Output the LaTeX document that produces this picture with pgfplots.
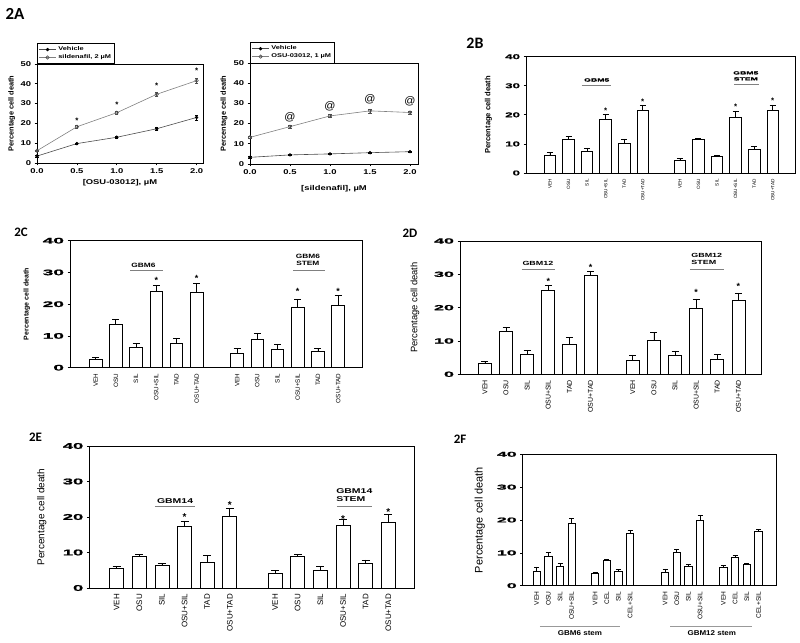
\documentclass[border=0pt]{standalone}
\usepackage{pgfplots}
\pgfplotsset{compat=1.18}
\usepackage{fontspec}
\setmainfont{Liberation Sans}
\newfontfamily\stS{Liberation Sans}[FakeStretch=1.15]
\newfontfamily\stA{Liberation Sans}[FakeStretch=1.35]
\newfontfamily\stM{Liberation Sans}[FakeStretch=1.5]
\newfontfamily\stB{Liberation Sans}[FakeStretch=1.9, FakeBold=1.2]
\newfontfamily\stE{Liberation Sans}[FakeStretch=2.2, FakeBold=1.5]
\newfontfamily\stC{Liberation Sans}[FakeStretch=2.4, FakeBold=1.5]
\newfontfamily\stF{Liberation Sans}[FakeStretch=2.55, FakeBold=1.5]
\newfontfamily\calib{Carlito}

\tikzset{grp/.style={font=#1, align=center, inner sep=0pt}}
\pgfplotsset{
  base/.style={scale only axis, anchor=south west, clip=false,
    axis line style={line width=0.8pt},
    /pgf/number format/assume math mode=true,
    tick style={black, line width=0.7pt},
    tick align=outside, xtick pos=bottom, ytick pos=left,
    major tick length=2.5pt},
  barax/.style={base, ymin=0, ymax=40, ytick={0,10,20,30,40},
    xtick={0,1,2,3,4,5,7,8,9,10,11,12},
    xticklabels={VEH,OSU,SIL,OSU+SIL,TAD,OSU+TAD,VEH,OSU,SIL,OSU+SIL,TAD,OSU+TAD},
    xtick style={draw=none},
    xticklabel style={rotate=90, anchor=east},
    ylabel={Percentage cell death}},
  bars/.style={ybar, bar width=0.62, fill=white, draw=black, line width=0.8pt,
    error bars/.cd, y dir=plus, y explicit,
    error bar style={line width=0.8pt, black},
    error mark options={rotate=90, black, line width=0.8pt, mark size=#1}},
  stars/.style={draw=none, mark=none, nodes near coords={*},
    every node near coord/.append style={anchor=center, inner sep=0pt, black, font=#1}},
  lineerr/.style={error bars/.cd, y dir=both, y explicit,
    error bar style={#1, line width=0.5pt},
    error mark options={rotate=90, #1, line width=0.5pt, mark size=1.6pt}},
}

\begin{document}
\begin{tikzpicture}
\path[use as bounding box] (0,0) rectangle (800bp,643bp);

% panel labels
\node[font=\calib\bfseries\fontsize{17}{18}\selectfont] at (15bp,629bp) {2A};
\node[font=\calib\bfseries\fontsize{16}{17}\selectfont] at (475bp,600bp) {2B};
\node[font=\calib\bfseries\fontsize{13}{14}\selectfont] at (21bp,410.5bp) {2C};
\node[font=\calib\bfseries\fontsize{13}{14}\selectfont] at (410bp,410bp) {2D};
\node[font=\calib\bfseries\fontsize{13}{14}\selectfont] at (35.5bp,205.5bp) {2E};
\node[font=\calib\bfseries\fontsize{13}{14}\selectfont] at (460bp,204bp) {2F};

% ---------------- 2A left
\begin{axis}[base, at={(37bp,480bp)}, width=166bp, height=99bp,
  xmin=0, xmax=2.08, ymin=0, ymax=50,
  xtick={0,0.5,1,1.5,2}, ytick={0,10,20,30,40,50},
  ticklabel style={font=\stA\bfseries\fontsize{7}{8}\selectfont},
  xticklabel style={/pgf/number format/.cd, fixed, fixed zerofill, precision=1},
  every axis y label/.style={at={(axis description cs:-0.152,0.5)}, rotate=90, anchor=center, font=\bfseries\fontsize{7.4}{8}\selectfont},
  every axis x label/.style={at={(axis description cs:0.5,-0.2)}, anchor=center, font=\stA\bfseries\fontsize{7}{8}\selectfont},
  xlabel={{[}OSU-03012{]}, µM}, ylabel={Percentage cell death},
  legend style={at={(0,1)}, anchor=south west, font=\stA\bfseries\fontsize{5.5}{6}\selectfont,
    draw=black, line width=0.5pt, inner sep=1.5pt, row sep=-1.5pt},
  legend cell align=left]
\addplot[black!70, line width=0.6pt, mark=*, mark size=1.4pt, mark options={black, fill=black}, lineerr=black]
  table[x=x, y=y, y error=e] {
x y e
0 3.5 0.5
0.5 9.8 0.4
1.0 13.0 0.4
1.5 17.3 0.6
2.0 23.0 1.2
};
\addlegendentry{Vehicle}
\addplot[black!50, line width=0.6pt, mark=o, mark size=1.7pt, mark options={black!70, fill=white}, lineerr=black!70]
  table[x=x, y=y, y error=e] {
x y e
0 6.2 0.4
0.5 18.3 0.8
1.0 25.4 0.8
1.5 34.7 1.2
2.0 41.6 1.4
};
\addlegendentry{sildenafil, 2 µM}
\addplot[stars=\bfseries\fontsize{8}{8}\selectfont, forget plot] coordinates {(0.5,21.4) (1.0,29.4) (1.5,38.9) (2.0,46.4)};
\end{axis}

% ---------------- 2A right
\begin{axis}[base, at={(250bp,479bp)}, width=168bp, height=101bp,
  xmin=0, xmax=2.1, ymin=0, ymax=50,
  xtick={0,0.5,1,1.5,2}, ytick={0,10,20,30,40,50},
  ticklabel style={font=\stA\bfseries\fontsize{7}{8}\selectfont},
  xticklabel style={/pgf/number format/.cd, fixed, fixed zerofill, precision=1},
  every axis y label/.style={at={(axis description cs:-0.155,0.5)}, rotate=90, anchor=center, font=\bfseries\fontsize{7.4}{8}\selectfont},
  every axis x label/.style={at={(axis description cs:0.5,-0.24)}, anchor=center, font=\stA\bfseries\fontsize{7}{8}\selectfont},
  xlabel={{[}sildenafil{]}, µM}, ylabel={Percentage cell death},
  legend style={at={(0,1)}, anchor=south west, font=\stA\bfseries\fontsize{5.5}{6}\selectfont,
    draw=black, line width=0.5pt, inner sep=1.5pt, row sep=-1.5pt},
  legend cell align=left]
\addplot[black!70, line width=0.6pt, mark=*, mark size=1.4pt, mark options={black, fill=black}, lineerr=black]
  table[x=x, y=y, y error=e] {
x y e
0 3.3 0.3
0.5 4.5 0.3
1.0 5.0 0.3
1.5 5.6 0.4
2.0 6.1 0.3
};
\addlegendentry{Vehicle}
\addplot[black!50, line width=0.6pt, mark=o, mark size=1.7pt, mark options={black!70, fill=white}, lineerr=black!70]
  table[x=x, y=y, y error=e] {
x y e
0 13.2 0.5
0.5 18.5 0.6
1.0 23.8 0.8
1.5 26.3 1.0
2.0 25.5 0.8
};
\addlegendentry{OSU-03012, 1 µM}
\addplot[stars=\fontsize{11}{11}\selectfont, nodes near coords={@}, forget plot] coordinates {(0.5,23.2) (1.0,28.5) (1.5,32.1) (2.0,31.0)};
\end{axis}

% ---------------- 2B
\begin{axis}[barax, at={(526bp,470bp)}, width=269bp, height=116.3bp,
  xmin=-1.29, xmax=13.2,
  yticklabel style={font=\stB\bfseries\fontsize{7}{8}\selectfont},
  xticklabel style={font=\fontsize{4.7}{5}\selectfont},
  every axis y label/.style={at={(axis description cs:-0.140,0.5)}, rotate=90, anchor=center, font=\bfseries\fontsize{7.6}{8}\selectfont}]
\addplot[bars=3pt] table[x=x, y=y, y error=e] {
x y e
0 6.2 1.0
1 11.4 1.2
2 7.4 1.2
3 18.6 1.6
4 10.1 1.6
5 21.7 1.6
7 4.5 0.4
8 11.4 0.6
9 5.8 0.4
10 19.0 2.1
11 8.1 1.0
12 21.4 2.0
};
\addplot[stars=\bfseries\fontsize{8}{8}\selectfont] coordinates {(3,21.4) (5,24.6) (10,22.7) (12,24.9)};
\node[grp=\stB\bfseries\fontsize{4.6}{5.5}\selectfont] at (axis cs:2.52,32.0) {GBM5};
\draw[black!50, line width=0.6pt] (axis cs:1.71,30.3) -- (axis cs:3.27,30.3);
\node[grp=\stB\bfseries\fontsize{4.6}{6}\selectfont] at (axis cs:10.55,33.4) {GBM5\\STEM};
\draw[black!50, line width=0.6pt] (axis cs:9.93,30.5) -- (axis cs:11.28,30.5);
\end{axis}

% ---------------- 2C
\begin{axis}[barax, at={(70bp,275.3bp)}, width=292bp, height=127bp,
  xmin=-1.27, xmax=13.18,
  yticklabel style={font=\stC\bfseries\fontsize{8}{9}\selectfont},
  xticklabel style={font=\fontsize{6.3}{7}\selectfont},
  every axis y label/.style={at={(axis description cs:-0.148,0.5)}, rotate=90, anchor=center, font=\bfseries\fontsize{7}{8}\selectfont}]
\addplot[bars=3.5pt] table[x=x, y=y, y error=e] {
x y e
0 2.6 0.6
1 13.6 1.6
2 6.4 1.2
3 23.9 2.0
4 7.8 1.5
5 23.6 3.0
7 4.6 1.6
8 9.0 1.9
9 5.7 1.6
10 19.0 2.6
11 5.0 1.0
12 19.7 3.0
};
\addplot[stars=\bfseries\fontsize{9}{9}\selectfont] coordinates {(3,27.6) (5,28.2) (10,24.0) (12,24.0)};
\node[grp=\stA\bfseries\fontsize{6.2}{7}\selectfont] at (axis cs:2.36,32.3) {GBM6};
\draw[black!50, line width=0.6pt] (axis cs:1.7,30.8) -- (axis cs:3.33,30.8);
\node[grp=\stA\bfseries\fontsize{6.2}{7.5}\selectfont] at (axis cs:10.5,33.9) {GBM6\\STEM};
\draw[black!50, line width=0.6pt] (axis cs:9.77,30.6) -- (axis cs:11.35,30.6);
\end{axis}

% ---------------- 2D
\begin{axis}[barax, at={(460bp,268.7bp)}, width=301.7bp, height=133.3bp,
  xmin=-1.18, xmax=13.1,
  yticklabel style={font=\stC\bfseries\fontsize{7.5}{8}\selectfont},
  xticklabel style={font=\fontsize{7}{8}\selectfont},
  every axis y label/.style={at={(axis description cs:-0.149,0.5)}, rotate=90, anchor=center, font=\fontsize{9.4}{10}\selectfont}]
\addplot[bars=3.5pt] table[x=x, y=y, y error=e] {
x y e
0 3.4 0.6
1 13.0 1.0
2 6.0 1.1
3 25.2 1.6
4 9.1 1.9
5 29.6 1.4
7 4.1 1.7
8 10.1 2.4
9 5.8 1.2
10 19.8 2.8
11 4.4 1.6
12 22.2 2.2
};
\addplot[stars=\bfseries\fontsize{9}{9}\selectfont] coordinates {(3,28.0) (5,32.0) (10,24.6) (12,26.5)};
\node[grp=\stM\bfseries\fontsize{6}{7}\selectfont] at (axis cs:2.51,33.4) {GBM12};
\draw[black!50, line width=0.6pt] (axis cs:1.74,31.6) -- (axis cs:3.32,31.6);
\node[grp=\stM\bfseries\fontsize{6}{7.5}\selectfont, align=left] at (axis cs:10.5,34.6) {GBM12\\STEM};
\draw[black!50, line width=0.6pt] (axis cs:9.7,31.6) -- (axis cs:11.3,31.6);
\end{axis}

% ---------------- 2E
\begin{axis}[barax, at={(89.3bp,55bp)}, width=325bp, height=142bp,
  xmin=-1.21, xmax=13.15,
  yticklabel style={font=\stE\bfseries\fontsize{8.4}{9}\selectfont},
  xticklabel style={font=\fontsize{8}{9}\selectfont},
  every axis y label/.style={at={(axis description cs:-0.146,0.5)}, rotate=90, anchor=center, font=\fontsize{10}{11}\selectfont}]
\addplot[bars=4pt] table[x=x, y=y, y error=e] {
x y e
0 5.4 0.7
1 8.8 0.6
2 6.4 0.6
3 17.3 1.6
4 7.1 2.0
5 20.3 2.1
7 4.0 1.0
8 8.8 0.6
9 5.0 1.0
10 17.7 1.5
11 6.8 1.1
12 18.4 2.2
};
\addplot[stars=\bfseries\fontsize{10}{10}\selectfont] coordinates {(3,19.9) (5,23.4) (10,19.5) (12,21.5)};
\node[grp=\stM\bfseries\fontsize{7}{8}\selectfont] at (axis cs:2.58,24.6) {GBM14};
\draw[black!50, line width=0.6pt] (axis cs:1.69,23.1) -- (axis cs:3.46,23.1);
\node[grp=\stM\bfseries\fontsize{7}{8.5}\selectfont, align=left] at (axis cs:10.5,26.1) {GBM14\\STEM};
\draw[black!50, line width=0.6pt] (axis cs:9.73,23.1) -- (axis cs:11.28,23.1);
\end{axis}

% ---------------- 2F
\begin{axis}[base, at={(522.7bp,57.3bp)}, width=253.3bp, height=131.4bp,
  xmin=-1.2, xmax=20.5, ymin=0, ymax=40, ytick={0,10,20,30,40},
  xtick={0,1,2,3,5,6,7,8,11,12,13,14,16,17,18,19},
  xticklabels={VEH,OSU,SIL,OSU+SIL,VEH,CEL,SIL,CEL+SIL,VEH,OSU,SIL,OSU+SIL,VEH,CEL,SIL,CEL+SIL},
  xtick style={draw=none},
  xticklabel style={rotate=90, anchor=east, font=\fontsize{6.6}{7}\selectfont},
  yticklabel style={font=\stF\bfseries\fontsize{7}{8}\selectfont},
  ylabel={Percentage cell death},
  every axis y label/.style={at={(axis description cs:-0.169,0.5)}, rotate=90, anchor=center, font=\fontsize{11}{12}\selectfont}]
\addplot[bars=2.5pt] table[x=x, y=y, y error=e] {
x y e
0 4.5 1.2
1 9.0 1.1
2 5.8 1.0
3 19.0 1.6
5 3.8 0.2
6 7.8 0.1
7 4.4 0.5
8 15.8 0.9
11 4.1 1.0
12 10.0 1.0
13 5.8 0.6
14 20.0 1.3
16 5.5 0.8
17 8.6 0.6
18 6.5 0.2
19 16.4 0.8
};
\draw[black!40, line width=0.6pt] (axis cs:0.28,-12.5) -- (axis cs:7.14,-12.5);
\draw[black!40, line width=0.6pt] (axis cs:11.43,-12.5) -- (axis cs:18.44,-12.5);
\node[grp=\stS\bfseries\fontsize{7}{8}\selectfont] at (axis cs:3.71,-14.5) {GBM6 stem};
\node[grp=\stS\bfseries\fontsize{7}{8}\selectfont] at (axis cs:15.0,-14.5) {GBM12 stem};
\end{axis}
\end{tikzpicture}
\end{document}
